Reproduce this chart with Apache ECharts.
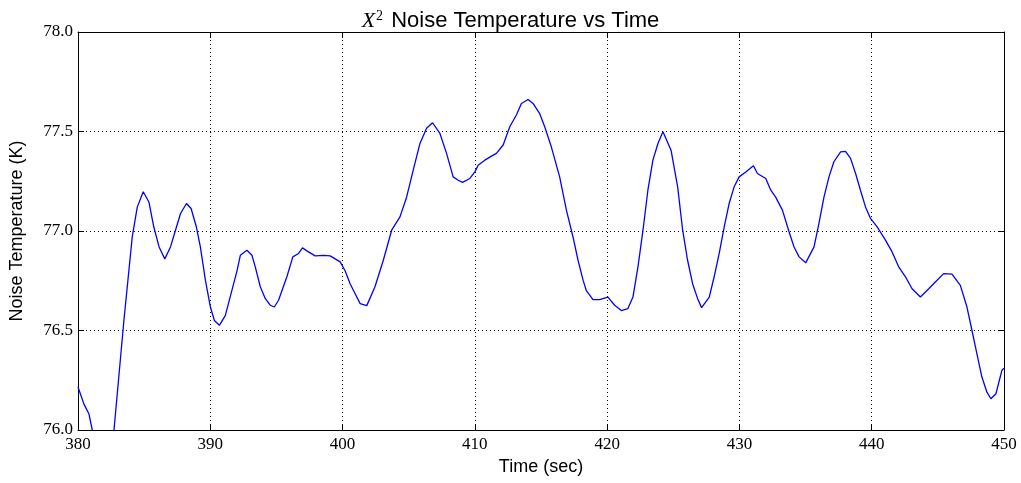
<!DOCTYPE html>
<html lang="en">
<head>
    <meta charset="UTF-8">
    <title>Noise Temperature vs Time</title>
    <script src="https://cdn.jsdelivr.net/npm/echarts@6/dist/echarts.min.js"></script>
    <style>
        html, body { margin: 0; padding: 0; background: #fff; }
        #chart { width: 1021px; height: 483px; }
    </style>
</head>
<body>
<div id="chart"></div>
<script>
    // time (sec) and noise temperature (K)
    var times = [
        380.0, 380.45, 380.83, 381.08, 382.2, 382.72, 383.47, 384.10, 384.48, 384.93,
        385.36, 385.73, 386.13, 386.56, 386.99, 387.37, 387.75, 388.20, 388.55, 388.95,
        389.25, 389.63, 390.01, 390.31, 390.69, 391.14, 391.51, 392.02, 392.27, 392.77,
        393.15, 393.40, 393.78, 394.16, 394.53, 394.84, 395.16, 395.79, 396.24, 396.67,
        396.97, 397.42, 397.93, 398.56, 399.06, 399.82, 400.19, 400.57, 400.95, 401.33,
        401.83, 402.45, 403.08, 403.71, 404.34, 404.84, 405.34, 405.85, 406.35, 406.80,
        407.36, 407.86, 408.36, 408.74, 409.07, 409.62, 410.0, 410.25, 410.75, 411.26,
        411.63, 412.14, 412.64, 413.14, 413.52, 414.02, 414.40, 414.90, 415.28, 415.78,
        416.41, 416.92, 417.42, 417.80, 418.18, 418.43, 418.93, 419.43, 420.06, 420.57,
        421.07, 421.57, 421.95, 422.33, 422.71, 423.08, 423.46, 423.84, 424.22, 424.83,
        425.33, 425.71, 426.08, 426.46, 426.84, 427.14, 427.72, 428.09, 428.47, 428.85,
        429.22, 429.60, 429.98, 430.48, 431.06, 431.36, 431.99, 432.37, 432.74, 433.25,
        433.75, 434.13, 434.51, 435.01, 435.64, 436.01, 436.39, 436.77, 437.14, 437.65,
        438.02, 438.40, 438.78, 439.15, 439.53, 439.91, 440.41, 441.04, 441.54, 442.04,
        442.55, 443.05, 443.68, 444.31, 444.81, 445.44, 446.07, 446.70, 447.20, 447.58,
        447.95, 448.33, 448.71, 449.01, 449.39, 449.84, 450.0
    ];
    var temps = [
        76.216, 76.13, 76.08, 76.0, 75.64, 76.0, 76.55, 76.97, 77.12, 77.197,
        77.146, 77.02, 76.92, 76.86, 76.92, 77.004, 77.088, 77.138, 77.113, 77.02,
        76.92, 76.753, 76.618, 76.55, 76.526, 76.576, 76.67, 76.80, 76.878, 76.903,
        76.878, 76.82, 76.72, 76.66, 76.627, 76.618, 76.652, 76.77, 76.87, 76.887,
        76.915, 76.895, 76.875, 76.878, 76.875, 76.845, 76.80, 76.735, 76.685, 76.635,
        76.625, 76.72, 76.853, 77.004, 77.071, 77.17, 77.306, 77.44, 77.516, 77.544,
        77.49, 77.39, 77.272, 77.255, 77.244, 77.264, 77.297, 77.33, 77.356, 77.376,
        77.39, 77.432, 77.524, 77.583, 77.641, 77.661, 77.641, 77.59, 77.524, 77.423,
        77.272, 77.105, 76.97, 76.853, 76.753, 76.70, 76.655, 76.655, 76.668, 76.627,
        76.60, 76.61, 76.668, 76.82, 77.004, 77.205, 77.356, 77.44, 77.499, 77.406,
        77.222, 77.004, 76.853, 76.735, 76.66, 76.615, 76.668, 76.77, 76.887, 77.021,
        77.138, 77.222, 77.272, 77.297, 77.328, 77.289, 77.264, 77.205, 77.17, 77.105,
        76.996, 76.92, 76.87, 76.84, 76.92, 77.038, 77.17, 77.272, 77.348, 77.398,
        77.40, 77.365, 77.289, 77.205, 77.121, 77.063, 77.021, 76.954, 76.895, 76.82,
        76.77, 76.71, 76.668, 76.71, 76.744, 76.786, 76.783, 76.727, 76.618, 76.50,
        76.384, 76.266, 76.19, 76.157, 76.182, 76.30, 76.31
    ];
    var xTicks = [380, 450, 10];
    var yTicks = [76.0, 78.0, 0.5];

    var points = times.map(function (t, i) { return [t, temps[i]]; });

    var serif = '"Liberation Serif", "DejaVu Serif", serif';
    var sans = '"Liberation Sans", Arial, sans-serif';

    var chart = echarts.init(document.getElementById('chart'));

    var baseX = {
        type: 'value',
        min: xTicks[0], max: xTicks[1], interval: xTicks[2],
        axisLine: { show: true, onZero: false, lineStyle: { color: '#000', width: 1 } },
        axisTick: { show: true, inside: true, length: 6, lineStyle: { color: '#000' } }
    };
    var baseY = {
        type: 'value',
        min: yTicks[0], max: yTicks[1], interval: yTicks[2],
        axisLine: { show: true, onZero: false, lineStyle: { color: '#000', width: 1 } },
        axisTick: { show: true, inside: true, length: 6, lineStyle: { color: '#000' } }
    };

    var option = {
        animation: false,
        backgroundColor: '#fff',
        title: {
            text: '{i|X}{s|2} Noise Temperature vs Time',
            left: 'center',
            top: 4,
            textStyle: {
                color: '#000',
                fontFamily: sans,
                fontSize: 22,
                fontWeight: 'normal',
                rich: {
                    i: { fontFamily: serif, fontStyle: 'italic', fontSize: 22, color: '#000' },
                    s: { fontFamily: serif, fontSize: 14, verticalAlign: 'top', padding: [0, 2, 10, 1], color: '#000' }
                }
            }
        },
        grid: { left: 77, right: 17, top: 32, bottom: 53 },
        xAxis: [
            Object.assign({}, baseX, {
                position: 'bottom',
                name: 'Time (sec)',
                nameLocation: 'middle',
                nameGap: 28,
                nameTextStyle: { color: '#000', fontFamily: sans, fontSize: 18 },
                axisLabel: { color: '#000', fontFamily: serif, fontSize: 17, margin: 6 },
                splitLine: { show: true, lineStyle: { color: '#000', type: [1, 3], width: 1 } }
            }),
            Object.assign({}, baseX, {
                position: 'top',
                axisLabel: { show: false },
                splitLine: { show: false }
            })
        ],
        yAxis: [
            Object.assign({}, baseY, {
                position: 'left',
                name: 'Noise Temperature (K)',
                nameLocation: 'middle',
                nameGap: 52,
                nameTextStyle: { color: '#000', fontFamily: sans, fontSize: 18 },
                axisLabel: {
                    color: '#000', fontFamily: serif, fontSize: 17, margin: 5,
                    formatter: function (v) { return v.toFixed(1); }
                },
                splitLine: { show: true, lineStyle: { color: '#000', type: [1, 3], width: 1 } }
            }),
            Object.assign({}, baseY, {
                position: 'right',
                axisLabel: { show: false },
                splitLine: { show: false }
            })
        ],
        series: [{
            type: 'line',
            data: points,
            xAxisIndex: 0,
            yAxisIndex: 0,
            showSymbol: false,
            clip: true,
            lineStyle: { color: '#0000ff', width: 1.3 }
        }]
    };
    chart.setOption(option);
</script>
</body>
</html>
